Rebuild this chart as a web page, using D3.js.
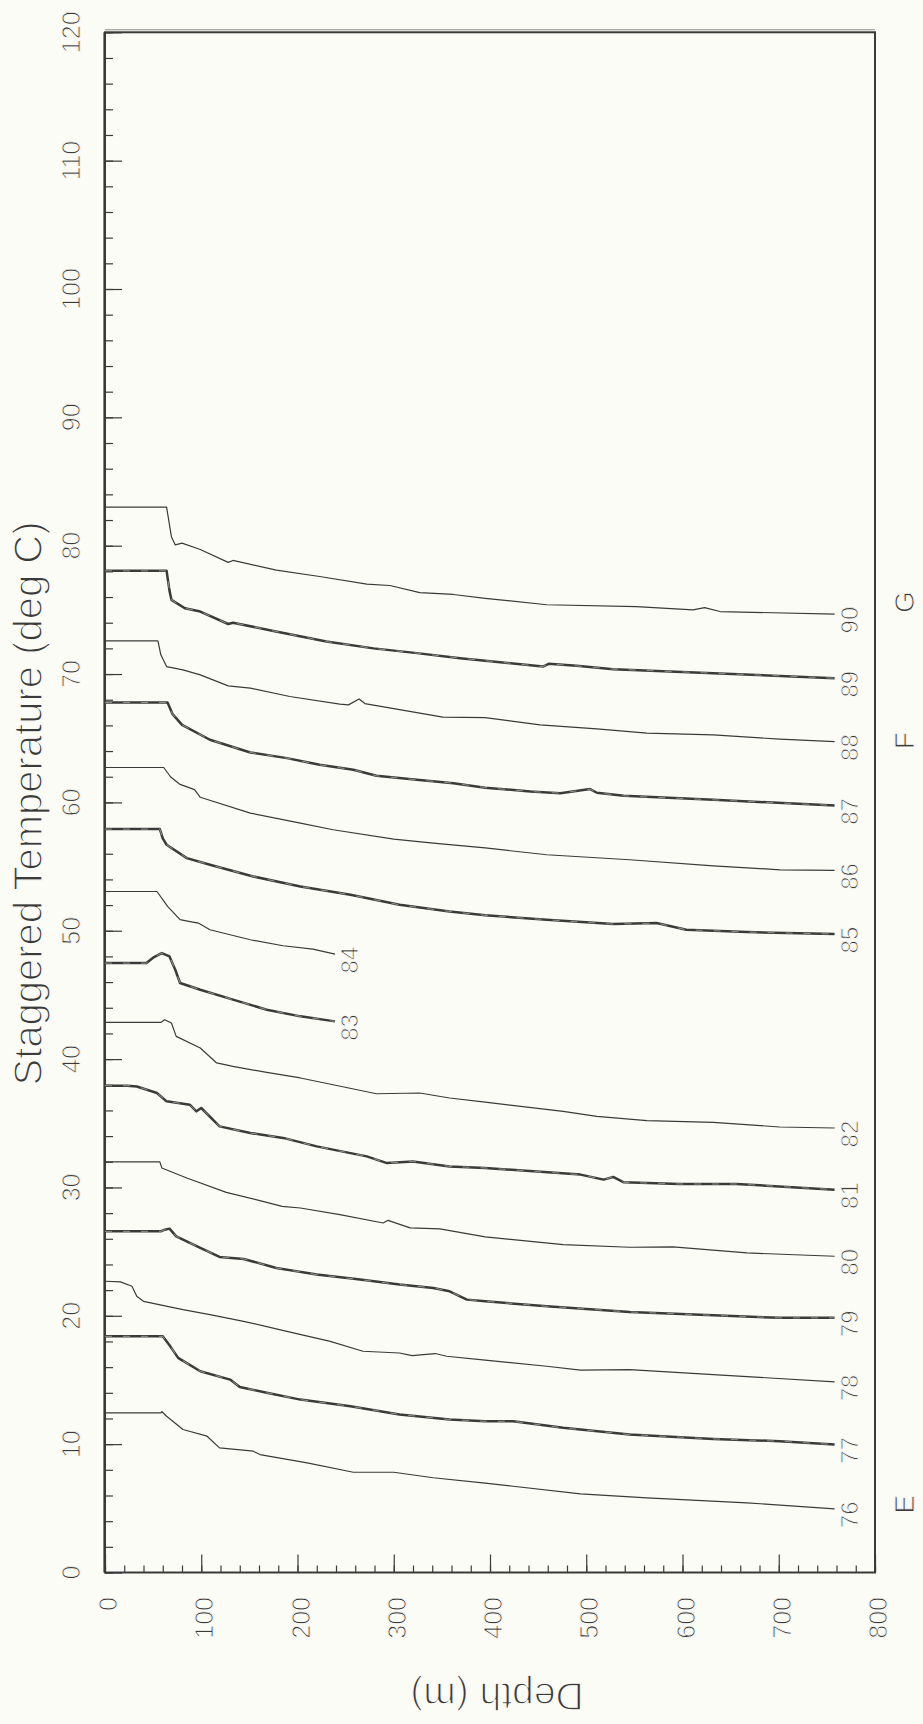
<!DOCTYPE html>
<html><head><meta charset="utf-8">
<script src="https://cdn.jsdelivr.net/npm/d3@7"></script>
<style>
html,body{margin:0;padding:0;background:#fcfcf7;}
svg{display:block;}
text{font-family:"Liberation Sans",Arial,Helvetica,sans-serif;fill:#3a3a3a;stroke:#fcfcf7;stroke-width:0.9px;}
</style></head>
<body>
<script>
// ---- data (depth m, temperature deg C, staggered) ----
const seriesIds = [76,77,78,79,80,81,82,83,84,85,86,87,88,89,90];
const tempTicks = [0,10,20,30,40,50,60,70,80,90,100,110,120];
const depthTicks = [0,100,200,300,400,500,600,700,800];
const groupLetters = ["E","F","G"];
const groupLetterTemps = [5.3, 64.8, 75.6];

const s76 = [[0,12.44],[58,12.44],[59,12.54],[64,12.17],[81,11.14],[106,10.62],[119,9.71],[154,9.45],[161,9.19],[210,8.54],[258,7.81],[300,7.81],[341,7.38],[395,6.96],[424,6.72],[494,6.13],[563,5.82],[667,5.43],[758,4.96]];
const s77 = [[0,18.4],[60,18.4],[68,17.6],[76,16.72],[99,15.68],[130,15.03],[140,14.46],[168,14.0],[203,13.47],[255,12.95],[306,12.31],[358,11.92],[395,11.78],[424,11.78],[476,11.27],[545,10.75],[632,10.41],[701,10.23],[758,9.97]];
const s78 = [[0,22.69],[16,22.64],[28,22.3],[33,21.52],[40,21.13],[81,20.48],[109,20.09],[144,19.57],[189,18.79],[234,18.01],[268,17.24],[306,17.1],[319,16.9],[343,17.06],[355,16.85],[395,16.55],[459,16.07],[494,15.76],[545,15.81],[632,15.42],[758,14.85]];
const s79 = [[0,26.58],[58,26.58],[62,26.71],[67,26.79],[74,26.19],[99,25.29],[119,24.59],[144,24.43],[178,23.73],[220,23.21],[265,22.82],[306,22.43],[341,22.17],[358,21.91],[376,21.26],[395,21.13],[459,20.74],[545,20.3],[632,20.04],[701,19.84],[758,19.84]];
const s80 = [[0,31.99],[57,31.99],[59,31.52],[85,30.74],[126,29.62],[164,28.92],[184,28.53],[203,28.4],[244,27.88],[289,27.23],[294,27.44],[317,26.85],[348,26.77],[395,26.15],[476,25.55],[545,25.34],[590,25.37],[667,24.9],[758,24.64]];
const s81 = [[0,37.93],[23,37.93],[33,37.87],[54,37.36],[64,36.71],[88,36.45],[95,35.93],[100,36.19],[119,34.76],[151,34.24],[185,33.86],[220,33.2],[272,32.42],[293,31.9],[320,32.03],[358,31.64],[395,31.52],[494,31.0],[518,30.61],[528,30.82],[539,30.4],[597,30.27],[656,30.27],[758,29.83]];
const s82 = [[0,42.86],[58,42.86],[62,43.07],[69,42.81],[74,41.77],[99,40.86],[116,39.7],[133,39.43],[168,38.96],[203,38.53],[237,38.0],[282,37.3],[327,37.36],[358,36.97],[395,36.65],[476,35.93],[511,35.54],[563,35.2],[632,35.07],[701,34.71],[758,34.63]];
const s83 = [[0,47.48],[43,47.48],[50,47.9],[59,48.26],[67,48.0],[73,46.96],[78,45.93],[99,45.4],[133,44.63],[168,43.85],[203,43.33],[239,42.94]];
const s84 = [[0,53.06],[54,53.06],[65,51.9],[78,50.86],[87,50.73],[97,50.6],[109,50.08],[151,49.3],[185,48.83],[216,48.57],[239,48.18]];
const s85 = [[0,57.92],[57,57.92],[60,57.2],[64,56.7],[85,55.66],[109,55.14],[154,54.23],[203,53.45],[255,52.8],[306,52.02],[358,51.5],[395,51.2],[459,50.86],[528,50.52],[573,50.6],[604,50.08],[667,49.9],[758,49.74]];
const s86 = [[0,62.72],[61,62.72],[68,62.0],[78,61.4],[93,61.0],[99,60.4],[151,59.17],[203,58.39],[237,57.87],[300,57.14],[341,56.83],[395,56.45],[459,55.92],[545,55.53],[632,55.06],[701,54.75],[758,54.7]];
const s87 = [[0,67.78],[65,67.78],[70,66.9],[80,66.04],[109,64.88],[151,63.89],[189,63.45],[223,62.93],[258,62.54],[282,62.07],[324,61.76],[362,61.5],[395,61.15],[442,60.85],[473,60.72],[504,61.04],[511,60.75],[539,60.51],[632,60.2],[758,59.76]];
const s88 = [[0,72.59],[55,72.59],[58,71.5],[64,70.58],[81,70.33],[99,69.94],[128,69.08],[151,68.9],[192,68.25],[244,67.65],[253,67.6],[264,68.05],[270,67.7],[327,66.95],[351,66.64],[395,66.6],[452,66.04],[511,65.73],[563,65.4],[632,65.26],[701,64.93],[758,64.74]];
const s89 = [[0,78.04],[64,78.04],[67,76.5],[69,75.78],[83,75.13],[99,74.87],[128,73.9],[133,74.0],[175,73.36],[230,72.53],[279,72.0],[324,71.63],[369,71.24],[395,71.04],[455,70.58],[461,70.8],[490,70.64],[528,70.38],[632,70.07],[758,69.68]];
const s90 = [[0,83.0],[64,83.0],[69,80.7],[73,80.06],[80,80.2],[99,79.7],[128,78.7],[133,78.85],[178,78.1],[223,77.6],[272,77.0],[296,76.9],[327,76.35],[362,76.2],[395,75.9],[459,75.4],[552,75.26],[611,75.0],[623,75.18],[639,74.87],[758,74.67]];
const seriesData = [s76,s77,s78,s79,s80,s81,s82,s83,s84,s85,s86,s87,s88,s89,s90];
const thickSeries = [77,79,81,83,85,87,89];

// ---- drawing ----
const W = 923, H = 1724;
const svg = d3.select("body").append("svg").attr("width", W).attr("height", H);
svg.append("rect").attr("width", W).attr("height", H).attr("fill", "#fcfcf7");

const x = d3.scaleLinear().domain([0, 800]).range([105, 875]);
const y = d3.scaleLinear().domain([0, 120]).range([1572.5, 32.3]);
const ink = "#3a3a3a";

function styleAxis(g){ g.select(".domain").remove(); g.selectAll(".tick line").attr("stroke", ink).attr("stroke-width", 1.2); }
svg.append("g").attr("transform", "translate(105,0)")
  .call(d3.axisRight(y).tickValues(d3.range(0, 121, 2)).tickSize(8).tickFormat(""))
  .call(styleAxis);
svg.append("g").attr("transform", "translate(105,0)")
  .call(d3.axisRight(y).tickValues(tempTicks).tickSize(17).tickFormat(""))
  .call(styleAxis);
svg.append("g").attr("transform", "translate(0," + y(0) + ")")
  .call(d3.axisTop(x).tickValues(d3.range(0, 801, 20)).tickSize(7).tickFormat(""))
  .call(styleAxis);
svg.append("g").attr("transform", "translate(0," + y(0) + ")")
  .call(d3.axisTop(x).tickValues(depthTicks).tickSize(18).tickFormat(""))
  .call(styleAxis);

// frame
svg.append("rect").attr("x", x(0)).attr("y", y(120)).attr("width", x(800) - x(0)).attr("height", y(0) - y(120))
  .attr("fill", "none").attr("stroke", ink).attr("stroke-width", 2);
svg.append("line").attr("x1", x(0)).attr("x2", x(800)).attr("y1", y(120) - 2.5).attr("y2", y(120) - 2.5)
  .attr("stroke", "#888").attr("stroke-width", 1);
svg.append("line").attr("x1", x(0) - 1).attr("x2", x(0) - 1).attr("y1", y(120)).attr("y2", y(0))
  .attr("stroke", ink).attr("stroke-width", 1.2);

// temperature tick labels (rotated)
svg.append("g").selectAll("text").data(tempTicks).join("text")
  .attr("x", 80).attr("y", d => y(d))
  .attr("transform", d => `rotate(-90,80,${y(d)})`)
  .attr("text-anchor", "middle").attr("font-size", 25)
  .text(d => d);

// depth tick labels (rotated)
svg.append("g").selectAll("text").data(depthTicks).join("text")
  .attr("x", d => x(d) + 12).attr("y", 1597)
  .attr("transform", d => `rotate(-90,${x(d) + 12},1597)`)
  .attr("text-anchor", "end").attr("font-size", 25)
  .text(d => d);

// titles
svg.append("text").attr("x", 42).attr("y", 803.5)
  .attr("transform", "rotate(-90,42,803.5)").attr("text-anchor", "middle")
  .attr("font-size", 40).style("stroke-width", "1.3px").text("Staggered Temperature (deg C)");
svg.append("text").attr("x", 497).attr("y", 1683)
  .attr("transform", "rotate(180,497,1683)").attr("text-anchor", "middle")
  .attr("font-size", 39).style("stroke-width", "1.3px").text("Depth (m)");

// profiles
const line = d3.line().x(d => x(d[0])).y(d => y(d[1]));
seriesIds.forEach((id, i) => {
  const data = seriesData[i];
  const thick = thickSeries.includes(id);
  svg.append("path").attr("d", line(data)).attr("fill", "none")
    .attr("stroke", ink).attr("stroke-width", thick ? 2.5 : 1.2)
    .attr("stroke-linejoin", "round");
  if (thick) {
    svg.append("path").attr("d", line(data)).attr("fill", "none")
      .attr("stroke", "#b8b8b0").attr("stroke-width", 0.7)
      .attr("stroke-dasharray", "7,11");
  }
  const last = data[data.length - 1];
  const lx = x(last[0]) + 23, ly = y(last[1]) + 6;
  svg.append("text").attr("x", lx).attr("y", ly)
    .attr("transform", `rotate(-90,${lx},${ly})`)
    .attr("text-anchor", "middle").attr("font-size", 24)
    .text(id);
});

// group letters
groupLetters.forEach((L, i) => {
  const gy = y(groupLetterTemps[i]);
  svg.append("text").attr("x", 914).attr("y", gy)
    .attr("transform", `rotate(-90,914,${gy})`)
    .attr("text-anchor", "middle").attr("font-size", 28).text(L);
});
</script>
</body></html>
